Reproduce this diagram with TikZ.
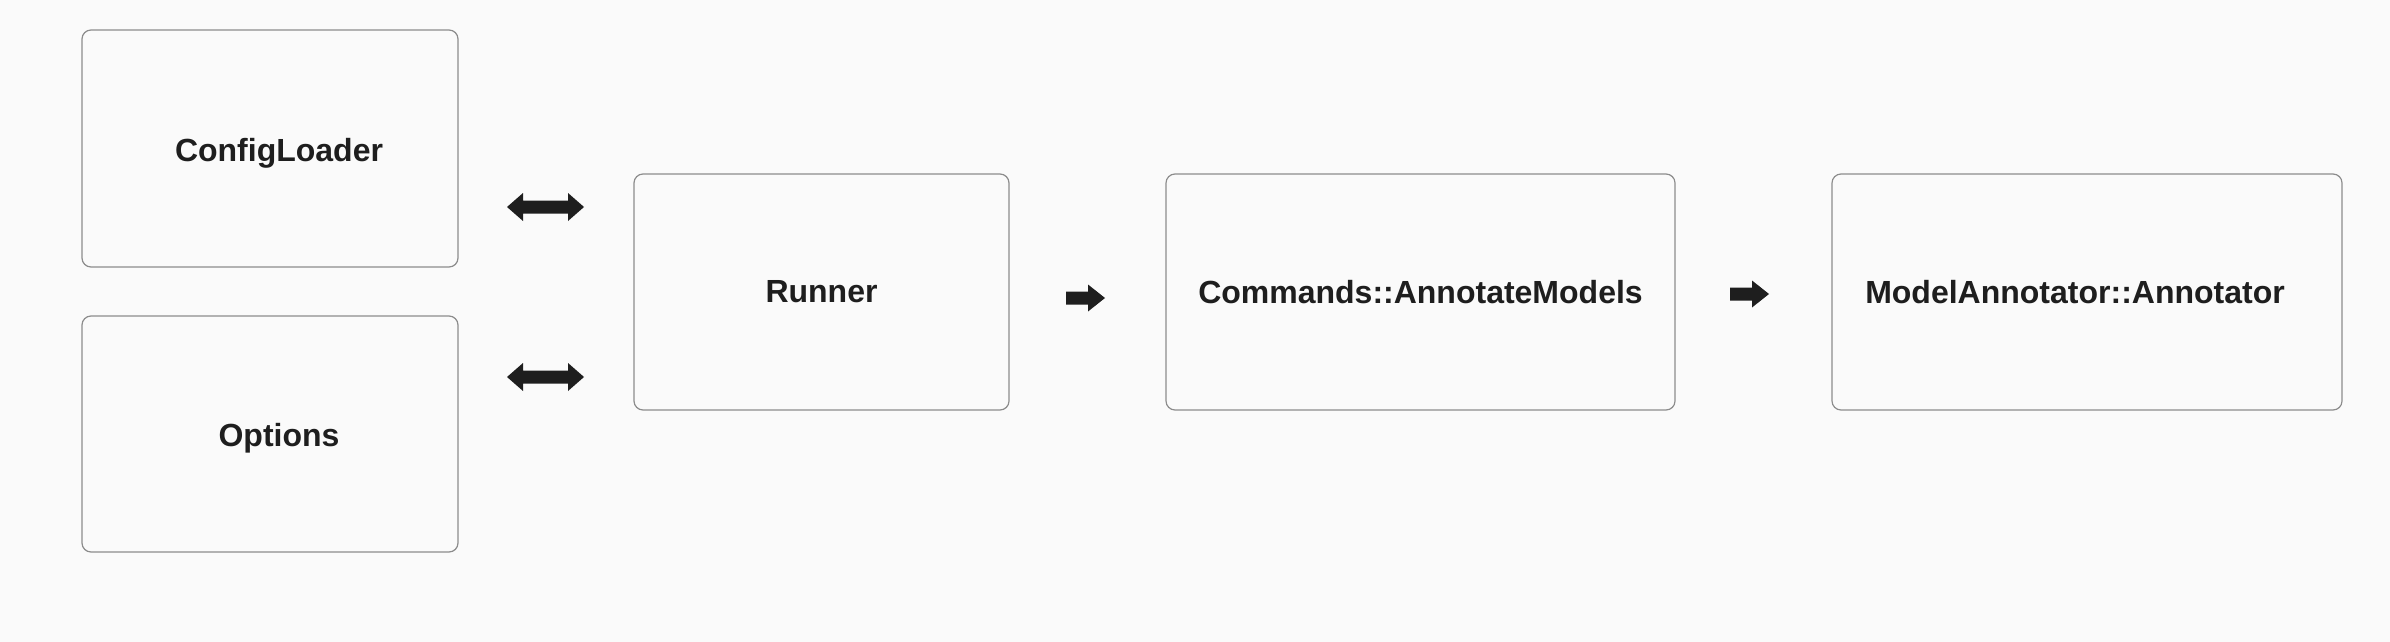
\documentclass[tikz,border=0pt]{standalone}
\usepackage{fontspec}
\setmainfont{Liberation Sans}
\usetikzlibrary{calc}
\definecolor{bg}{HTML}{FAFAFA}
\definecolor{boxline}{HTML}{8C8C8C}
\definecolor{ink}{HTML}{1E1E1E}
\tikzset{
  box/.style={draw=boxline, line width=1.2pt, rounded corners=9pt, fill=bg, inner sep=0pt},
  txt/.style={text=ink, font=\bfseries\fontsize{32}{38}\selectfont, inner sep=0pt},
  arrowc/.style={fill=ink},
  dblarrow/.pic={\fill[arrowc] (-38.5,0) -- (-22.5,-14) -- (-22.5,-6.5) -- (22.5,-6.5) -- (22.5,-14) -- (38.5,0) -- (22.5,14) -- (22.5,6.5) -- (-22.5,6.5) -- (-22.5,14) -- cycle;},
  sglarrow/.pic={\fill[arrowc] (-19.5,-6.5) -- (2.5,-6.5) -- (2.5,-13.5) -- (19.5,0) -- (2.5,13.5) -- (2.5,6.5) -- (-19.5,6.5) -- cycle;}
}
\begin{document}
\begin{tikzpicture}[x=1pt,y=-1pt]
\fill[bg] (0,0) rectangle (2390,642);
\useasboundingbox (0,0) rectangle (2390,642);
\node[box, minimum width=376pt, minimum height=237pt] (cfg) at (270,148.5) {};
\node[box, minimum width=376pt, minimum height=236pt] (opt) at (270,434) {};
\node[box, minimum width=375pt, minimum height=236pt] (run) at (821.5,292) {};
\node[box, minimum width=509pt, minimum height=236pt] (cmd) at (1420.5,292) {};
\node[box, minimum width=510pt, minimum height=236pt] (ann) at (2087,292) {};
\node[txt] (cfgt) at (279,153) {ConfigLoader};
\node[txt] (optt) at (279,438.5) {Options};
\node[txt] (runt) at (821.5,292) {Runner};
\node[txt] (cmdt) at (1420.5,292) {Commands::AnnotateModels};
\node[txt] (annt) at (2075,292) {ModelAnnotator::Annotator};
\coordinate (a1) at (545.5,207);
\coordinate (a2) at (545.5,377);
\coordinate (a3) at (1085.5,298);
\coordinate (a4) at (1749.5,294);
\pic at (a1) {dblarrow};
\pic at (a2) {dblarrow};
\pic at (a3) {sglarrow};
\pic at (a4) {sglarrow};
\end{tikzpicture}
\end{document}
